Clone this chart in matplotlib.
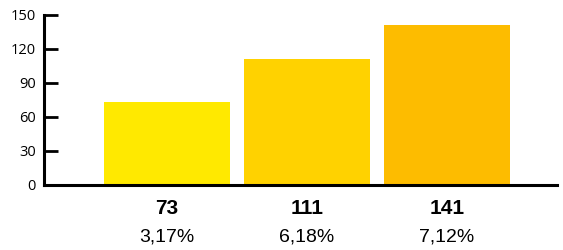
import matplotlib
matplotlib.use("Agg")
import matplotlib.pyplot as plt

values = [73, 111, 141]
percents = ["3,17%", "6,18%", "7,12%"]
colors = ["#FFE900", "#FFD200", "#FDBC00"]
yticks = [0, 30, 60, 90, 120, 150]

fig = plt.figure(figsize=(5.63, 2.5), dpi=100)
ax = fig.add_axes([44/563, 65/250, (557-44)/563, 170/250])
x = list(range(len(values)))
ax.bar(x, values, width=0.9, color=colors)
ax.set_xlim(-0.879, 2.786)
ax.set_ylim(0, 150)
ax.set_yticks(yticks)
ax.set_yticklabels([str(t) for t in yticks], fontsize=10.5, family=['Open Sans', 'DejaVu Sans'])
ax.tick_params(axis='y', direction='in', length=10, width=2, pad=6)
ax.set_xticks([])
for s in ['top', 'right']:
    ax.spines[s].set_visible(False)
ax.spines['left'].set_linewidth(2.2)
ax.spines['bottom'].set_linewidth(2.2)

fam = ['Liberation Sans', 'DejaVu Sans']
for xi, v, p in zip(x, values, percents):
    ax.annotate(str(v), xy=(xi, 0), xycoords='data', xytext=(0, -24*72/100), textcoords='offset points',
                ha='center', va='center', fontsize=15, fontweight='bold', family=fam)
    ax.annotate(p, xy=(xi, 0), xycoords='data', xytext=(0, -52*72/100), textcoords='offset points',
                ha='center', va='center', fontsize=14, family=fam)

fig.savefig("out.png", dpi=100)
